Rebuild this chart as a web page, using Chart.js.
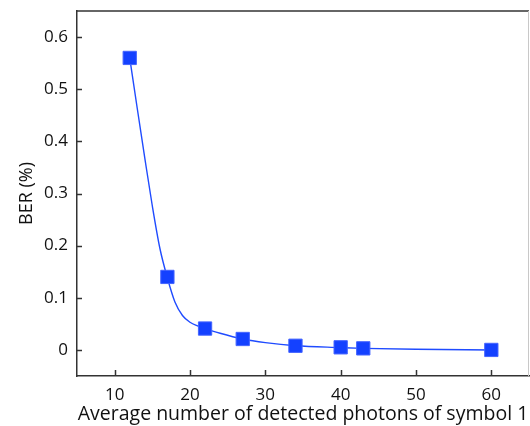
<!DOCTYPE html>
<html>
<head>
<meta charset="utf-8">
<script src="https://cdn.jsdelivr.net/npm/chart.js@4/dist/chart.umd.min.js"></script>
<style>
html,body{margin:0;padding:0;background:#fff;}
#wrap{width:530px;height:426px;}
</style>
</head>
<body>
<div id="wrap"><canvas id="c" width="530" height="426"></canvas></div>
<script>
// measured points
const photons = [12, 17, 22, 27, 34, 40, 43, 60];
const ber = [0.56, 0.14, 0.041, 0.021, 0.008, 0.005, 0.003, 0.0];
// fitted curve
const fitPhotons = [12, 13, 14, 15, 16, 17, 18, 19, 20, 21, 22, 24, 27, 30, 34, 40, 43, 50, 60];
const fitBer = [0.56, 0.463, 0.368, 0.276, 0.195, 0.138, 0.092, 0.066, 0.053, 0.046, 0.041, 0.032, 0.021, 0.014, 0.008, 0.0045, 0.003, 0.0012, 0.0];
const xTicks = [10, 20, 30, 40, 50, 60];
const yTicks = [0, 0.1, 0.2, 0.3, 0.4, 0.5, 0.6];
const xTitle = 'Average number of detected photons of symbol 1';
const yTitle = 'BER (%)';

const FONT = 'Open Sans';
const AXIS = '#333333';

const frame = {
  id: 'frame',
  afterDraw(chart) {
    const {ctx, chartArea: a, scales} = chart;
    ctx.save();
    ctx.strokeStyle = AXIS; ctx.lineWidth = 1.5;
    ctx.beginPath(); ctx.moveTo(a.left, a.top); ctx.lineTo(a.right, a.top); ctx.stroke();
    ctx.strokeStyle = '#c8c8c8'; ctx.lineWidth = 1;
    ctx.beginPath(); ctx.moveTo(a.right - 0.5, a.top); ctx.lineTo(a.right - 0.5, a.bottom); ctx.stroke();
    ctx.strokeStyle = AXIS; ctx.lineWidth = 1.5;
    for (const t of scales.x.ticks) {
      const px = Math.round(scales.x.getPixelForValue(t.value)) + 0.5;
      ctx.beginPath(); ctx.moveTo(px, a.bottom); ctx.lineTo(px, a.bottom - 6); ctx.stroke();
    }
    for (const t of scales.y.ticks) {
      const py = Math.round(scales.y.getPixelForValue(t.value)) + 0.5;
      ctx.beginPath(); ctx.moveTo(a.left, py); ctx.lineTo(a.left + 5, py); ctx.stroke();
    }
    ctx.restore();
  }
};

new Chart(document.getElementById('c'), {
  type: 'scatter',
  data: {
    datasets: [
      {
        label: 'measured',
        data: photons.map((x, i) => ({x, y: ber[i]})),
        pointStyle: 'rect',
        pointRadius: 9.4,
        backgroundColor: '#1441ff',
        borderColor: '#4464ff',
        borderWidth: 1,
        showLine: false
      },
      {
        label: 'fit',
        data: fitPhotons.map((x, i) => ({x, y: fitBer[i]})),
        showLine: true,
        cubicInterpolationMode: 'monotone',
        borderColor: '#1f4bff',
        borderWidth: 1.4,
        pointRadius: 0,
        fill: false
      }
    ]
  },
  options: {
    responsive: false,
    animation: false,
    devicePixelRatio: 1,
    layout: {autoPadding: false, padding: {top: 11, right: 1, left: 0, bottom: 0}},
    plugins: {legend: {display: false}, tooltip: {enabled: false}},
    scales: {
      x: {
        type: 'linear', min: 5, max: 65,
        afterBuildTicks(s) { s.ticks = xTicks.map(v => ({value: v})); },
        afterFit(s) { s.height = 50; s.paddingLeft = 0; s.paddingRight = 0; },
        grid: {display: true, drawOnChartArea: false, drawTicks: false, color: 'transparent'},
        border: {display: true, color: AXIS, width: 1.5},
        ticks: {color: '#111', padding: 9, font: {family: FONT, size: 17}, maxRotation: 0,
          callback: v => String(v)},
        title: {display: true, text: xTitle, color: '#111', font: {family: FONT, size: 19.5},
          padding: {top: 0, bottom: 0}}
      },
      y: {
        type: 'linear', min: -0.05, max: 0.65,
        afterBuildTicks(s) { s.ticks = yTicks.map(v => ({value: v})); },
        afterFit(s) { s.width = 77; s.paddingTop = 0; s.paddingBottom = 0; },
        grid: {display: true, drawOnChartArea: false, drawTicks: false, color: 'transparent'},
        border: {display: true, color: AXIS, width: 1.5},
        ticks: {color: '#111', padding: 9, font: {family: FONT, size: 17},
          callback: v => (v === 0 ? '0' : v.toFixed(1))},
        title: {display: true, text: yTitle, color: '#111', font: {family: FONT, size: 18},
          padding: {top: 16, bottom: 0}}
      }
    }
  },
  plugins: [frame]
});
</script>
</body>
</html>
